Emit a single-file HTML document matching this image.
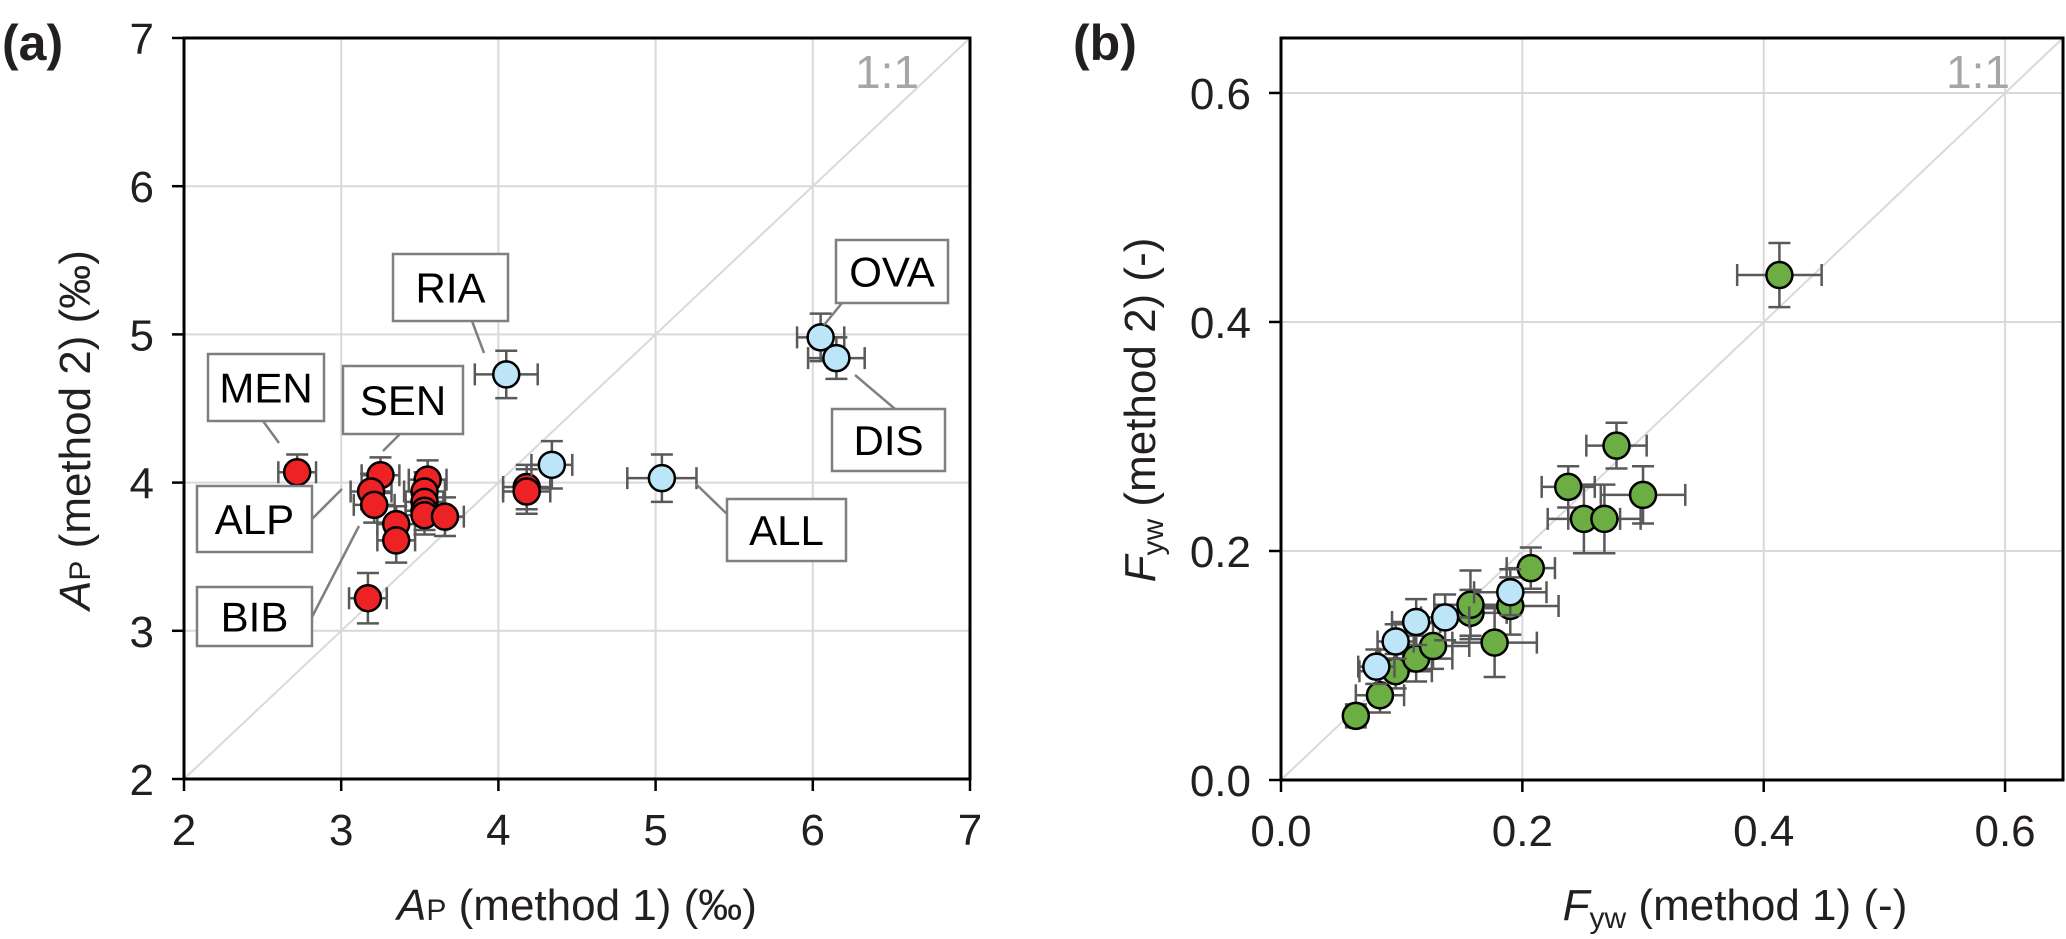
<!DOCTYPE html>
<html><head><meta charset="utf-8"><style>
html,body{margin:0;padding:0;background:#fff;}
svg{display:block;font-family:"Liberation Sans",Arial,sans-serif;}
</style></head><body>
<svg id="chart" width="2066" height="939" viewBox="0 0 2066 939" xmlns="http://www.w3.org/2000/svg">
<text x="2" y="60" font-size="50" font-weight="bold" fill="#231f20">(a)</text>
<text x="1073" y="60" font-size="50" font-weight="bold" fill="#231f20">(b)</text>
<g id="pa"></g>
<g id="pb"></g>
</svg>
<script>
// Panel A data
const aTicks = [2,3,4,5,6,7];
const aRedX = [2.72,3.25,3.19,3.21,3.55,3.53,3.53,3.53,3.53,3.66,3.35,3.35,3.17,4.18,4.18];
const aRedY = [4.07,4.05,3.94,3.85,4.02,3.94,3.87,3.81,3.78,3.77,3.72,3.61,3.22,3.97,3.94];
const aRedXErr = [0.12,0.12,0.13,0.13,0.12,0.13,0.12,0.12,0.12,0.12,0.12,0.12,0.12,0.15,0.15];
const aRedYErr = [0.12,0.12,0.12,0.12,0.13,0.13,0.13,0.13,0.13,0.13,0.12,0.15,0.17,0.15,0.15];
const aBlueX = [4.05,4.34,5.04,6.05,6.15];
const aBlueY = [4.73,4.12,4.03,4.98,4.84];
const aBlueXErr = [0.2,0.13,0.22,0.15,0.18];
const aBlueYErr = [0.16,0.16,0.16,0.16,0.14];
// Panel B data
const bTicks = [0,0.2,0.4,0.6];
const bTickLabels = ["0.0","0.2","0.4","0.6"];
const bGreenX = [0.062,0.082,0.095,0.112,0.126,0.177,0.157,0.157,0.190,0.207,0.251,0.268,0.238,0.300,0.278,0.413];
const bGreenY = [0.056,0.074,0.095,0.106,0.117,0.120,0.146,0.153,0.152,0.185,0.228,0.228,0.256,0.249,0.292,0.441];
const bGreenXErr = [0.008,0.02,0.03,0.03,0.03,0.035,0.03,0.03,0.04,0.02,0.03,0.03,0.022,0.035,0.025,0.035];
const bGreenYErr = [0.01,0.015,0.015,0.02,0.02,0.03,0.02,0.03,0.025,0.018,0.03,0.03,0.018,0.025,0.02,0.028];
const bBlueX = [0.079,0.095,0.112,0.136,0.190];
const bBlueY = [0.099,0.121,0.138,0.142,0.164];
const bBlueXErr = [0.015,0.015,0.02,0.02,0.03];
const bBlueYErr = [0.015,0.015,0.02,0.02,0.02];

const NS="http://www.w3.org/2000/svg";
function mk(parent,tag,attrs){const e=document.createElementNS(NS,tag);for(const k in attrs)e.setAttribute(k,attrs[k]);parent.appendChild(e);return e;}

function panel(g, L,R,T,B, min,max, ticks, labels, name){
  const sx=v=>L+(v-min)/(max-min)*(R-L);
  const sy=v=>B-(v-min)/(max-min)*(B-T);
  ticks.forEach((t,i)=>{
    if(t>min && t<max){
      const gx=mk(g,'line',{x1:sx(t),x2:sx(t),y1:T,y2:B,stroke:'#d9d9d9','stroke-width':2});
      
      
      const gy=mk(g,'line',{x1:L,x2:R,y1:sy(t),y2:sy(t),stroke:'#d9d9d9','stroke-width':2});
      
      
    }
  });
  const d=mk(g,'line',{x1:sx(min),y1:sy(min),x2:sx(max),y2:sy(max),stroke:'#d9d9d9','stroke-width':2});
  
  
  const f=mk(g,'rect',{x:L,y:T,width:R-L,height:B-T,fill:'none',stroke:'#000','stroke-width':3});
  
  
  ticks.forEach((t,i)=>{
    mk(g,'line',{x1:sx(t),x2:sx(t),y1:B,y2:B+12,stroke:'#000','stroke-width':2.5});
    mk(g,'line',{x1:L-12,x2:L,y1:sy(t),y2:sy(t),stroke:'#000','stroke-width':2.5});
    const tx=mk(g,'text',{x:sx(t),y:B+66,'font-size':44,'text-anchor':'middle',fill:'#231f20'});
    tx.textContent=labels[i];
    
    
    const ty=mk(g,'text',{x:L-30,y:sy(t)+16,'font-size':44,'text-anchor':'end',fill:'#231f20'});
    ty.textContent=labels[i];
    
    
  });
  return {sx,sy};
}

function points(g,s,X,Y,XE,YE,fill,name){
  X.forEach((x,i)=>{
    const cx=s.sx(x), cy=s.sy(Y[i]);
    const x1=s.sx(x-XE[i]), x2=s.sx(x+XE[i]), y1=s.sy(Y[i]-YE[i]), y2=s.sy(Y[i]+YE[i]);
    const eb=mk(g,'path',{d:`M${x1},${cy}H${x2}M${x1},${cy-11}V${cy+11}M${x2},${cy-11}V${cy+11}M${cx},${y1}V${y2}M${cx-11},${y1}H${cx+11}M${cx-11},${y2}H${cx+11}`,stroke:'#595959','stroke-width':2.5,fill:'none'});
    
    
  });
  X.forEach((x,i)=>{
    const c=mk(g,'circle',{cx:s.sx(x),cy:s.sy(Y[i]),r:13,fill:fill,stroke:'#000','stroke-width':2.5});
    
    
  });
}

const ga=document.getElementById('pa');
const sa=panel(ga,184,970,38,779,2,7,aTicks,aTicks.map(String),'panel-a');
points(ga,sa,aRedX,aRedY,aRedXErr,aRedYErr,'#ed2224','red-site');
points(ga,sa,aBlueX,aBlueY,aBlueXErr,aBlueYErr,'#bde5f8','blue-site');

const gb=document.getElementById('pb');
const sb=panel(gb,1281,2063,38,780,0,0.648,bTicks,bTickLabels,'panel-b');
points(gb,sb,bGreenX,bGreenY,bGreenXErr,bGreenYErr,'#6cad44','green-site');
points(gb,sb,bBlueX,bBlueY,bBlueXErr,bBlueYErr,'#bde5f8','blue-site');

// Site labels
const labs=[['MEN',208,354,116,67,263,421,279,443],['SEN',343,366,120,68,400,434,383,451],['RIA',393,254,115,67,472,321,484,353],
['ALP',197,486,115,66,312,519,342,489],['BIB',197,587,115,59,312,617,359,526],['OVA',836,240,112,63,842,303,824,325],
['DIS',832,409,113,62,895,409,855,375],['ALL',727,499,119,62,729,516,696,484]];
labs.forEach(l=>{
  const ln=mk(ga,'line',{x1:l[5],y1:l[6],x2:l[7],y2:l[8],stroke:'#7f7f7f','stroke-width':2.5});
  
  
  const r=mk(ga,'rect',{x:l[1],y:l[2],width:l[3],height:l[4],fill:'#fff',stroke:'#7f7f7f','stroke-width':2.5});
  
  
  const t=mk(ga,'text',{x:l[1]+l[3]/2,y:l[2]+l[4]/2+15,'font-size':42,'text-anchor':'middle',fill:'#000'});
  t.textContent=l[0];
  
  
});
</script>
<svg style="position:absolute;left:0;top:0" width="2066" height="939" xmlns="http://www.w3.org/2000/svg">
<text x="855" y="88" font-size="46" fill="#a6a6a6" font-family="Liberation Sans, sans-serif">1:1</text>
<text x="1946" y="88" font-size="46" fill="#a6a6a6" font-family="Liberation Sans, sans-serif">1:1</text>
<text x="577" y="920" font-size="44" text-anchor="middle" fill="#231f20" font-family="Liberation Sans, sans-serif"><tspan font-style="italic">A</tspan><tspan font-size="30">P</tspan> (method 1) (‰)</text>
<text x="1735" y="920" font-size="44" text-anchor="middle" fill="#231f20" font-family="Liberation Sans, sans-serif"><tspan font-style="italic">F</tspan><tspan font-size="30" dy="8">yw</tspan><tspan dy="-8"> (method 1) (-)</tspan></text>
<text transform="translate(90,430) rotate(-90)" font-size="44" text-anchor="middle" fill="#231f20" font-family="Liberation Sans, sans-serif"><tspan font-style="italic">A</tspan><tspan font-size="30">P</tspan> (method 2) (‰)</text>
<text transform="translate(1155,410) rotate(-90)" font-size="44" text-anchor="middle" fill="#231f20" font-family="Liberation Sans, sans-serif"><tspan font-style="italic">F</tspan><tspan font-size="30" dy="8">yw</tspan><tspan dy="-8"> (method 2) (-)</tspan></text>
</svg>
</body></html>
